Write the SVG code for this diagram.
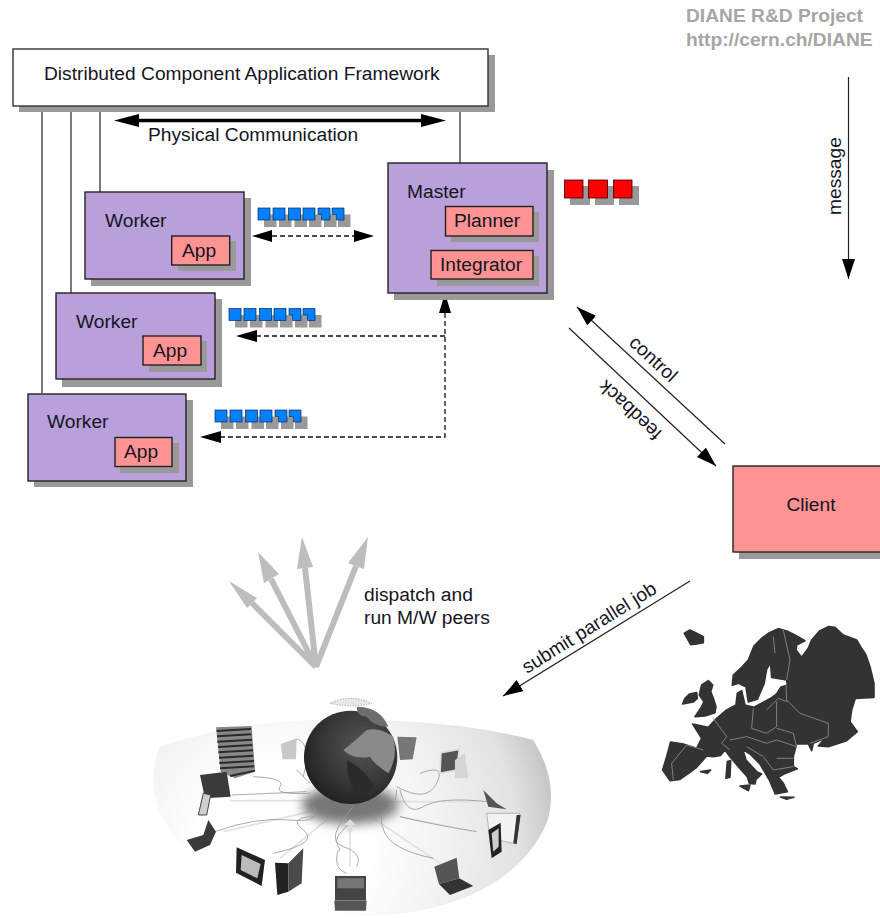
<svg xmlns="http://www.w3.org/2000/svg" width="880" height="918" viewBox="0 0 880 918">
<style>
text{font-family:"Liberation Sans",Arial,sans-serif;font-size:19.200px;fill:#15151f}
.sh{fill:#999}
.fw{fill:#fff;stroke:#333;stroke-width:1.4}
.box{fill:#b9a0da;stroke:#222;stroke-width:1.4}
.app{fill:#ff9393;stroke:#222;stroke-width:1.4}
.ln{stroke:#333;stroke-width:1.3;fill:none}
.thin{stroke:#222;stroke-width:1.2;fill:none}
.dash{stroke:#111;stroke-width:1.3;fill:none;stroke-dasharray:5 3}
.ga{stroke:#bdbdbd;stroke-width:6;fill:none}
.gh{fill:#bdbdbd}
.b{fill:#0480fb;stroke:#0a2c60;stroke-width:.7}
.r{fill:#f00;stroke:#300;stroke-width:.8}
.eu{fill:#333;stroke:#333;stroke-width:5;stroke-linejoin:round}
.bd{fill:none;stroke:#8c8c8c;stroke-width:2.600}
.dev{fill:#3a3a3a}
.cab{fill:none;stroke:#9a9a9a;stroke-width:2.500}
.cabl{fill:none;stroke:#e2e2e2;stroke-width:5}
</style>
<defs>
<marker id="ah" markerUnits="userSpaceOnUse" markerWidth="22" markerHeight="14" refX="20" refY="6.500" orient="auto-start-reverse"><path d="M0 0L20 6.500L0 13z" fill="#000"/></marker>
<radialGradient id="surf" gradientUnits="userSpaceOnUse" cx="430" cy="950" r="830"><stop offset="0.3" stop-color="#fff"/><stop offset="0.6" stop-color="#f1f1f1"/><stop offset="0.85" stop-color="#e2e2e2"/><stop offset="1" stop-color="#c4c4c4"/></radialGradient>
<radialGradient id="glb" cx="0.62" cy="0.38" r="0.7"><stop offset="0" stop-color="#555"/><stop offset="0.6" stop-color="#363636"/><stop offset="1" stop-color="#1e1e1e"/></radialGradient>
<filter id="bl" x="-30%" y="-60%" width="160%" height="220%"><feGaussianBlur stdDeviation="16"/></filter>
<g id="q6"><rect class="sh" x="6" y="6.500" width="12.500" height="12.500"/><rect class="sh" x="21" y="6.500" width="12.500" height="12.500"/><rect class="sh" x="36.500" y="6.500" width="12.500" height="12.500"/><rect class="sh" x="51" y="6.500" width="12.500" height="12.500"/><rect class="sh" x="66" y="6.500" width="12.500" height="12.500"/><rect class="sh" x="80" y="6.500" width="12.500" height="12.500"/><rect class="b" x="0" y="0" width="12" height="12"/><rect class="b" x="15" y="0" width="12" height="12"/><rect class="b" x="30.500" y="0" width="12" height="12"/><rect class="b" x="45" y="0" width="12" height="12"/><path class="b" d="M60 0H72V12H63.500V6.500H60z"/><path class="b" d="M74 0H86V12H78.500V6.500H74z"/></g>
</defs>

<g id="title"><text x="686" y="22" style="font-weight:700;fill:#a6a6a6">DIANE R&amp;D Project</text><text x="686" y="46" style="font-weight:700;fill:#a6a6a6">http://cern.ch/DIANE</text></g>

<g id="connectors">
<path class="ln" d="M42 106V393M71 106V293M100 106V192M460 106V163"/>
<path d="M139 120.500H421" stroke="#000" stroke-width="3.500" fill="none"/>
<path d="M114 120.500L139 114V127zM446 120.500L421 114V127z" fill="#000"/>
<path class="dash" d="M272 236H354"/>
<path d="M252 236L272 230V242zM374 236L354 230V242z" fill="#000"/>
<path class="dash" d="M445 313V437H220M445 336H256"/>
<path d="M445 293L439 313H451zM236 336L257 330V342zM200 437L221 431V443z" fill="#000"/>
<path class="thin" d="M848.500 77V279" marker-end="url(#ah)"/>
<path class="thin" d="M725 444L577 307" marker-end="url(#ah)"/>
<path class="thin" d="M569 328L716 466" marker-end="url(#ah)"/>
<path class="thin" d="M690 581L503 696" marker-end="url(#ah)"/>
<g id="peers">
<path class="ga" d="M316 667L252 603M316 667L271 579M316 667L305 568M316 667L356 566"/>
<path class="gh" d="M229 581L257 598L247 608zM258 552L279 574L264 583zM302 537L313 567L297 569zM368 537L364 569L348 563z"/>
</g>
</g>

<g id="framework"><rect class="sh" x="19" y="55" width="476" height="57"/><rect class="fw" x="13" y="49" width="475" height="57"/><text x="44" y="80">Distributed Component Application Framework</text></g>
<text id="physical" x="148" y="141">Physical Communication</text>

<g id="worker1"><rect class="sh" x="91" y="198" width="160" height="88"/><rect class="box" x="85" y="192" width="159" height="87"/><text x="105" y="227">Worker</text><rect class="sh" x="177.500" y="241" width="58.500" height="30"/><rect class="app" x="171.700" y="236" width="58" height="29"/><text x="182" y="257">App</text></g>
<g id="worker2"><rect class="sh" x="62" y="299" width="160" height="88"/><rect class="box" x="56" y="293" width="159" height="86"/><text x="76" y="328">Worker</text><rect class="sh" x="149" y="341" width="58" height="31"/><rect class="app" x="143" y="336" width="58" height="29"/><text x="153" y="357">App</text></g>
<g id="worker3"><rect class="sh" x="34" y="400" width="159" height="87"/><rect class="box" x="28" y="394" width="158" height="87"/><text x="47" y="428">Worker</text><rect class="sh" x="120" y="443" width="59" height="30"/><rect class="app" x="115" y="437.500" width="57" height="29"/><text x="124" y="458">App</text></g>
<g id="master"><rect class="sh" x="394" y="170" width="160" height="130"/><rect class="box" x="388" y="163" width="159" height="130"/><text x="407" y="198">Master</text><rect class="sh" x="451" y="212" width="88" height="30"/><rect class="app" x="445.500" y="206.500" width="87.500" height="29.500"/><text x="454" y="227">Planner</text><rect class="sh" x="437" y="256" width="102" height="30"/><rect class="app" x="431" y="250.500" width="102" height="28.500"/><text x="440" y="271">Integrator</text></g>

<g id="queues"><use href="#q6" x="258" y="208"/><use href="#q6" x="229" y="308.500"/><use href="#q6" x="215" y="410"/>
<g id="redqueue"><rect class="sh" x="570" y="186" width="20" height="19"/><rect class="sh" x="595" y="186" width="19" height="19"/><rect class="sh" x="619" y="186" width="20" height="19"/><rect class="r" x="564.500" y="180" width="18.500" height="18"/><rect class="r" x="588.500" y="180" width="19" height="18"/><rect class="r" x="613.500" y="180" width="18.500" height="18"/></g></g>

<g id="client"><rect class="sh" x="739" y="473" width="141" height="86"/><rect class="app" x="733" y="466" width="149" height="86"/><text x="811" y="511" text-anchor="middle">Client</text></g>

<text id="message" transform="translate(841 215) rotate(-90)">message</text>
<text id="control" transform="translate(628 344) rotate(43)">control</text>
<text id="feedback" transform="translate(663 432) rotate(223)">feedback</text>
<text id="submit" transform="translate(527 674) rotate(-32)">submit parallel job</text>
<g id="dispatch"><text x="364" y="601">dispatch and</text><text x="364" y="624">run M/W peers</text></g>

<g id="grid" transform="translate(140 530) scale(.3333)">
<path d="M60 650Q330 560 640 570Q950 570 1180 630Q1260 760 1220 880Q1130 1080 850 1140Q650 1180 420 1130Q170 1060 60 850Q20 740 60 650z" fill="url(#surf)"/>
<path class="cabl" d="M270 812H620M1010 815H700M250 905L510 845M420 985L560 870M630 1010V875M960 1040L700 865M1000 905L780 860"/>
<ellipse cx="630" cy="825" rx="145" ry="58" fill="#777" filter="url(#bl)"/>
<path class="cab" d="M340 740Q440 745 420 770T510 790M275 795Q400 790 500 785M225 905Q350 860 450 870T520 830M620 1030Q590 1020 590 990T600 960Q580 930 600 910T630 880M650 1010Q670 970 610 950T640 830M400 970Q540 940 490 900T530 860M880 985Q760 960 735 910T740 840T770 780M840 730Q920 700 890 760T770 770M1040 815Q900 800 850 830T780 780M1010 905Q860 880 780 860M430 660Q470 610 490 640T490 740M470 720L510 760"/>
<path d="M630 868L648 885H637V905H623V885H612z" fill="#ddd"/>
<g id="globe"><circle cx="632" cy="682" r="140" fill="url(#glb)"/><path d="M610 660Q650 630 680 600Q720 590 760 620Q775 680 745 730Q700 700 690 680Q640 690 610 660z" fill="#8a8a8a"/><path d="M650 530Q720 530 745 590Q700 590 680 560Q650 560 650 530z" fill="#6e6e6e"/><path d="M620 690Q680 720 700 770Q660 810 650 800Q620 750 620 690z" fill="#2b2b2b"/><path d="M570 520Q630 490 695 520Q640 535 570 520z" fill="#e8e8e8" stroke="#666" stroke-width="2" stroke-dasharray="3 5"/></g>
<g id="devices">
<path d="M228 592L335 588L345 725L285 745L242 725z" fill="#888"/>
<path d="M230 603L333 597M231 619L334 613M232 635L336 629M234 651L337 645M235 667L339 661M237 683L340 677M238 699L342 693M240 715L343 709M270 738L345 722" stroke="#2a2a2a" stroke-width="6" fill="none"/>
<path class="dev" d="M180 735L260 725L272 800L195 805z"/>
<path d="M190 790L212 795L200 855H175z" fill="#cfcfcf" stroke="#444" stroke-width="3"/>
<path class="dev" d="M205 870L228 905L210 945L165 965L140 930L190 915z"/>
<path d="M290 952L375 990L365 1068L288 1028z" fill="#222"/><path d="M305 975L362 1002L352 1045L302 1020z" fill="#bbb"/>
<path d="M405 998L445 1000V1085L412 1095z" fill="#222"/><path d="M445 1000L490 955L485 1060L445 1085z" fill="#4a4a4a"/>
<path d="M585 1038H678V1112H585z" fill="#444"/><path d="M592 1045H672V1075H592z" fill="#777"/><path d="M583 1112H680L678 1142H585z" fill="#555"/>
<path d="M883 1010L950 983L958 1045L897 1062z" fill="#555"/><path d="M897 1062L958 1045L1000 1068L930 1095z" fill="#333"/>
<path d="M1040 850L1140 850L1128 942L1050 925z" fill="#f2f2f2" stroke="#999" stroke-width="2"/><path d="M1130 855L1142 855L1130 942L1120 940z" fill="#333"/>
<path d="M1030 780L1070 820L1100 838L1045 830z" fill="#555"/>
<path d="M1045 900L1082 878L1085 965L1055 985z" fill="#222"/><path d="M1055 910L1076 895L1076 950L1060 965z" fill="#ccc"/>
<path d="M903 668L958 658L950 720L900 730z" fill="#555" stroke="#ddd" stroke-width="5"/><path d="M945 690L975 670L985 745L945 745z" fill="#d5d5d5"/>
<path d="M772 620L830 622L818 688L780 690z" fill="#777"/>
<path d="M422 642L470 625L468 688L428 688z" fill="#c8c8c8"/>
</g>
</g>

<g id="europe" transform="translate(500 570) scale(.3333)">
<path class="eu" d="M553 190L570 180L590 190L610 200L610 218L590 222L572 224z"/>
<path class="eu" d="M548 402L555 385L568 372L590 368L592 385L580 396z"/>
<path class="eu" d="M605 345L625 332L638 345L632 365L640 385L648 410L645 428L615 438L585 440L605 410L612 395L598 375z"/>
<path class="eu" d="M697 346L700 315L725 292L745 270L762 228L785 205L805 190L835 176L865 185L885 195L915 212L890 225L888 240L905 262L925 235L935 210L960 182L985 170L1005 172L1030 195L1070 210L1085 235L1098 255L1110 290L1122 340L1122 382L1066 385L1055 420L1050 455L1072 485L1040 512L985 530L955 528L975 505L940 520L935 542L925 522L890 522L880 560L880 590L892 596L852 612L835 622L850 640L862 665L826 672L808 630L780 582L750 552L728 538L738 570L770 605L785 612L768 628L765 642L748 640L742 620L715 590L690 560L675 540L662 556L640 560L620 558L590 592L570 607L540 628L510 632L488 600L500 560L512 516L550 522L590 535L605 505L578 462L625 472L650 445L680 420L708 405L712 370L725 362L735 405L762 412L812 385L830 372L842 352L862 345L860 330L815 322L812 282L826 252L800 298L792 342L772 388L745 396L738 350L715 340z"/>
<path class="eu" d="M682 575L692 572L690 622L678 625zM720 648L750 645L745 662zM842 681L882 682L860 688zM602 605L632 600L622 610z"/>
<path class="bd" d="M820 200L825 250M850 180L870 270L860 330M640 445L680 500L665 520L690 540M610 540L560 525L515 580L520 630M760 415L755 475L800 490L830 470L830 395M860 390L900 430L985 460L985 500L930 520M830 475L880 490L890 530L830 510L800 520L740 500L690 510M740 530L790 560L820 600L880 590M830 565L880 565M858 345L860 395L835 385L800 420"/>
</g>
</svg>
